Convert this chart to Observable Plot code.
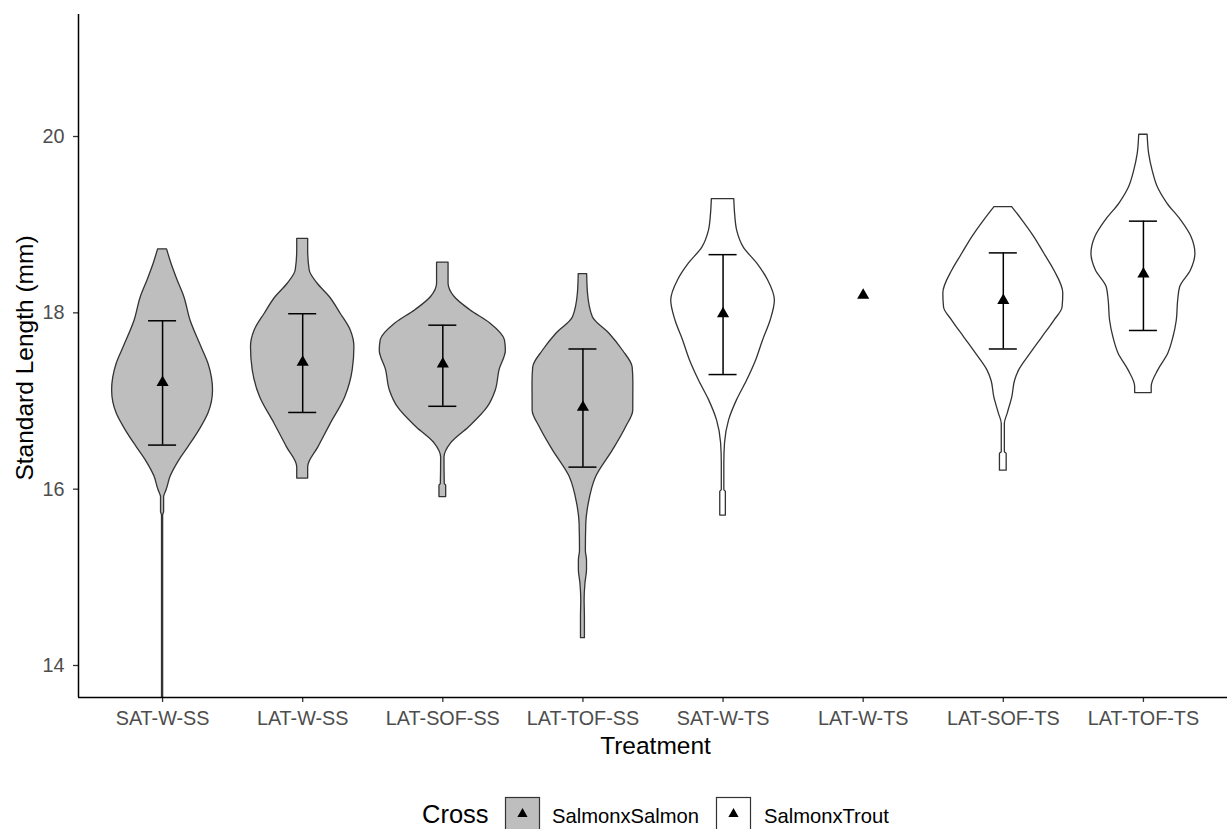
<!DOCTYPE html>
<html><head><meta charset="utf-8">
<script src="https://cdn.jsdelivr.net/npm/d3@7"></script>
<script src="https://cdn.jsdelivr.net/npm/@observablehq/plot@0.6"></script>
<style>
html,body{margin:0;padding:0;background:#fff;}
#wrap{position:relative;width:1227px;height:829px;overflow:hidden;font-family:"Liberation Sans",Arial,sans-serif;}
#wrap svg{position:absolute;left:0;}
#wrap [aria-label="x-axis tick label"], #wrap [aria-label="y-axis tick label"]{fill:#4D4D4D;}
</style></head>
<body><div id="wrap"></div>
<script>
// ---- data ----
const categories = ["SAT-W-SS","LAT-W-SS","LAT-SOF-SS","LAT-TOF-SS","SAT-W-TS","LAT-W-TS","LAT-SOF-TS","LAT-TOF-TS"];
const cross = ["SalmonxSalmon","SalmonxSalmon","SalmonxSalmon","SalmonxSalmon","SalmonxTrout","SalmonxTrout","SalmonxTrout","SalmonxTrout"];
const crossLevels = ["SalmonxSalmon","SalmonxTrout"];
const means = [17.21, 17.44, 17.42, 16.93, 17.99, 18.20, 18.14, 18.44];
const errLo = [16.50, 16.87, 16.94, 16.25, 17.30, null, 17.59, 17.80];
const errHi = [17.91, 17.99, 17.86, 17.59, 18.66, null, 18.68, 19.04];
const yTicks = [14, 16, 18, 20];
const yDomain = [13.637, 21.384];

// violin profiles: [value, half-width (in category units)]
const violinSatWss = [[18.72,0.032],[18.56,0.063],[18.37,0.107],[18.18,0.155],[17.91,0.200],[17.61,0.278],[17.42,0.328],[17.12,0.360],[16.86,0.328],[16.67,0.264],[16.48,0.186],[16.33,0.121],[16.14,0.057],[15.99,0.029],[15.93,0.014],[15.91,0.011],[15.74,0.011],[15.70,0.004],[13.50,0.004]];
const violinLatWss = [[18.84,0.039],[18.71,0.039],[18.48,0.050],[18.33,0.107],[18.18,0.193],[17.99,0.271],[17.80,0.343],[17.61,0.369],[17.35,0.357],[17.04,0.303],[16.74,0.200],[16.48,0.114],[16.25,0.039],[16.12,0.039]];
const violinLatSofSs = [[18.57,0.041],[18.33,0.041],[18.18,0.084],[18.03,0.196],[17.88,0.339],[17.69,0.443],[17.57,0.450],[17.35,0.405],[17.12,0.378],[16.93,0.321],[16.70,0.186],[16.52,0.059],[16.36,0.012],[16.06,0.014],[16.04,0.024],[15.91,0.024]];
const violinLatTofSs = [[18.44,0.030],[18.22,0.036],[17.95,0.071],[17.76,0.191],[17.57,0.286],[17.38,0.355],[17.20,0.360],[16.89,0.359],[16.70,0.307],[16.44,0.214],[16.14,0.095],[15.83,0.041],[15.61,0.024],[15.30,0.021],[15.19,0.029],[15.08,0.029],[14.93,0.018],[14.74,0.012],[14.55,0.014],[14.31,0.014]];
const violinSatWts = [[19.29,0.080],[19.12,0.086],[18.93,0.101],[18.74,0.148],[18.56,0.243],[18.37,0.321],[18.14,0.370],[17.91,0.339],[17.69,0.286],[17.46,0.236],[17.23,0.171],[17.01,0.100],[16.78,0.043],[16.52,0.014],[16.29,0.009],[15.99,0.009],[15.97,0.020],[15.70,0.020]];
const violinLatWts = [];
const violinLatSofTs = [[19.20,0.063],[19.05,0.136],[18.86,0.221],[18.67,0.293],[18.48,0.364],[18.22,0.428],[18.06,0.423],[17.91,0.364],[17.72,0.278],[17.54,0.196],[17.35,0.114],[17.23,0.084],[17.04,0.064],[16.86,0.032],[16.74,0.011],[16.42,0.011],[16.40,0.024],[16.21,0.024]];
const violinLatTofTs = [[20.02,0.030],[19.80,0.041],[19.61,0.066],[19.43,0.101],[19.24,0.171],[19.05,0.268],[18.86,0.343],[18.67,0.371],[18.48,0.339],[18.29,0.262],[18.14,0.248],[17.91,0.238],[17.72,0.214],[17.54,0.178],[17.35,0.107],[17.16,0.059],[17.09,0.059]];

const violins = [violinSatWss, violinLatWss, violinLatSofSs, violinLatTofSs, violinSatWts, violinLatWts, violinLatSofTs, violinLatTofTs];

// ---- build tables ----
const areaData = violins.flatMap((prof, i) => prof.map(([v, w]) => ({cat: i + 1, v, w, cross: cross[i]})));
const meanData = categories.map((c, i) => ({cat: i + 1, mean: means[i]}));
const errData = categories.map((c, i) => ({cat: i + 1, lo: errLo[i], hi: errHi[i]})).filter(d => d.lo != null);
const capData = errData.flatMap(d => [{cat: d.cat, y: d.lo}, {cat: d.cat, y: d.hi}]);
const xTickPos = categories.map((c, i) => i + 1);

const W = 1227, H = 775;
const font = '"Liberation Sans", Arial, sans-serif';

const chart = Plot.plot({
  width: W, height: H,
  marginTop: 14, marginBottom: H - 697, marginLeft: 78, marginRight: 0,
  x: {type: "linear", domain: [0.4, categories.length + 0.6], axis: null},
  y: {domain: yDomain, axis: null},
  color: {domain: crossLevels, range: ["#BEBEBE", "#FFFFFF"]},
  style: {fontFamily: font, background: "#fff", overflow: "visible"},
  marks: [
    Plot.areaX(areaData, {y: "v", x1: d => d.cat - d.w, x2: d => d.cat + d.w, z: "cat", fill: "cross", stroke: "#333", strokeWidth: 1.3, curve: "monotone-y", clip: true}),
    Plot.ruleX(errData, {x: "cat", y1: "lo", y2: "hi", stroke: "black", strokeWidth: 1.5}),
    Plot.ruleY(capData, {y: "y", x1: d => d.cat - 0.1, x2: d => d.cat + 0.1, stroke: "black", strokeWidth: 1.5}),
    Plot.dot(meanData, {x: "cat", y: "mean", symbol: "triangle", fill: "black", stroke: "none", r: 4.5}),
    Plot.axisX({ticks: xTickPos, tickFormat: i => categories[i - 1], tickSize: 5, tickPadding: 8, fontSize: 19.8, stroke: "#333", strokeWidth: 1.3, label: null}),
    Plot.axisY({ticks: yTicks, tickSize: 5, tickPadding: 9, fontSize: 19.8, stroke: "#333", strokeWidth: 1.3, label: null}),
    Plot.ruleX([0.4], {stroke: "black", strokeWidth: 1.5}),
    Plot.ruleY([yDomain[0]], {stroke: "black", strokeWidth: 1.5})
  ]
});
chart.style.top = "0px";

const svg = d3.select(chart);
svg.append("text")
  .attr("transform", "translate(33,358) rotate(-90)")
  .attr("text-anchor", "middle").attr("font-size", 24.5).attr("fill", "black")
  .attr("font-family", font)
  .text("Standard Length (mm)");
svg.append("text")
  .attr("x", (78 + W) / 2 + 3).attr("y", 754)
  .attr("text-anchor", "middle").attr("font-size", 24.5).attr("fill", "black")
  .attr("font-family", font)
  .text("Treatment");

const wrap = document.getElementById("wrap");
wrap.appendChild(chart);

// ---- legend (below the plot) ----
const leg = d3.select(wrap).append("svg")
  .attr("width", W).attr("height", 829 - H)
  .style("top", H + "px")
  .attr("font-family", font);
const base = 48;
leg.append("text").attr("x", 422).attr("y", base).attr("font-size", 25.5).attr("fill", "black").text("Cross");
const legendFill = {"SalmonxSalmon": "#BEBEBE", "SalmonxTrout": "#FFFFFF"};
const boxX = [505, 716], textX = [552, 764];
crossLevels.forEach((c, i) => {
  leg.append("rect").attr("x", boxX[i] + 0.5).attr("y", 22.5).attr("width", 34).attr("height", 34)
    .attr("fill", legendFill[c]).attr("stroke", "#333").attr("stroke-width", 1.2);
  leg.append("path").attr("d", d3.symbol(d3.symbolTriangle, 45)())
    .attr("transform", `translate(${boxX[i] + 17.5},${39})`).attr("fill", "black");
  leg.append("text").attr("x", textX[i]).attr("y", base).attr("font-size", 20.2).attr("fill", "black").text(c);
});
</script>
</body></html>
